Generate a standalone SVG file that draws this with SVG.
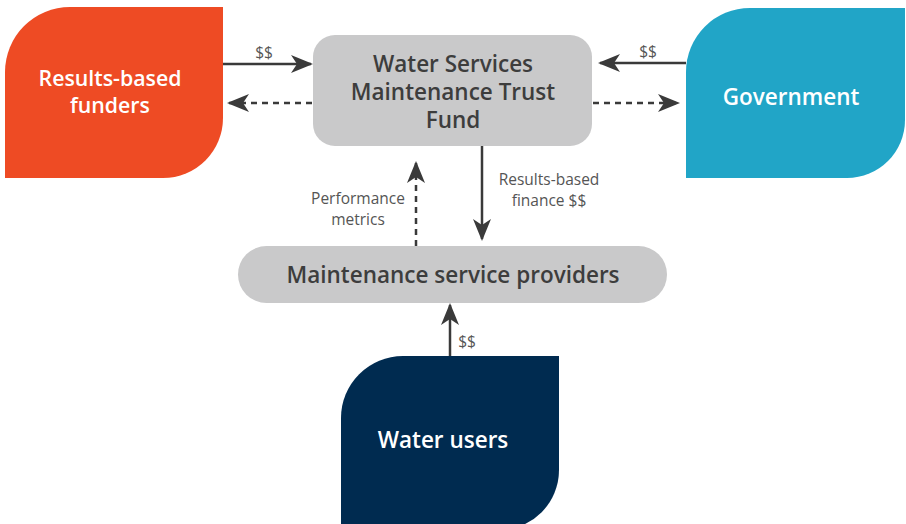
<svg xmlns="http://www.w3.org/2000/svg" width="906" height="524" viewBox="0 0 906 524">
<style>
.node-text{font-family:"Open Sans","Liberation Sans",sans-serif;font-weight:600;font-size:22.5px;fill:#ffffff;text-anchor:middle}
.gray-text{font-family:"Open Sans","Liberation Sans",sans-serif;font-weight:600;font-size:22.5px;fill:#3d3d3d;text-anchor:middle}
.lbl{font-family:"Open Sans","Liberation Sans",sans-serif;font-size:15.5px;fill:#555555;text-anchor:middle}
.solid{stroke:#3a3a3a;stroke-width:2.5;fill:none}
.dash{stroke:#3a3a3a;stroke-width:2.5;fill:none;stroke-dasharray:6 5}
</style>
<defs>
<marker id="ah" markerUnits="userSpaceOnUse" markerWidth="22" markerHeight="18" viewBox="0 0 22 18" refX="20" refY="9" orient="auto">
<path d="M0,0 L22,9 L0,18 L6,9 Z" fill="#3a3a3a"/>
</marker>
</defs>
<rect width="906" height="524" fill="#ffffff"/>
<g id="funders">
<path d="M5,72 A65,65 0 0 1 70,7 L223,7 L223,118 A60,60 0 0 1 163,178 L5,178 Z" fill="#ee4b24"/>
<text class="node-text" x="110" y="86" style="font-size:21.3px">Results-based</text>
<text class="node-text" x="110" y="113" style="font-size:21.3px">funders</text>
</g>
<g id="government">
<path d="M686,72 A64,64 0 0 1 750,8 L905,8 L905,120 A58,58 0 0 1 847,178 L686,178 Z" fill="#21a5c7"/>
<text class="node-text" x="791" y="105">Government</text>
</g>
<g id="trust-fund">
<rect x="313" y="35" width="279" height="111" rx="22" fill="#c9c9ca"/>
<text class="gray-text" x="453" y="72">Water Services</text>
<text class="gray-text" x="453" y="100">Maintenance Trust</text>
<text class="gray-text" x="453" y="128">Fund</text>
</g>
<g id="providers">
<rect x="238" y="246" width="429" height="57" rx="28.5" fill="#c9c9ca"/>
<text class="gray-text" x="453" y="283">Maintenance service providers</text>
</g>
<g id="water-users">
<path d="M341,418 A62,62 0 0 1 403,356 L559,356 L559,470 A60,60 0 0 1 499,530 L341,530 Z" fill="#002b50"/>
<text class="node-text" x="443" y="448">Water users</text>
</g>
<g id="connectors">
<line class="solid" x1="223" y1="64" x2="311" y2="64" marker-end="url(#ah)"/>
<line class="dash" x1="312" y1="103" x2="229" y2="103" marker-end="url(#ah)"/>
<line class="solid" x1="686" y1="63" x2="600" y2="63" marker-end="url(#ah)"/>
<line class="dash" x1="593" y1="103" x2="678" y2="103" marker-end="url(#ah)"/>
<line class="solid" x1="482" y1="146" x2="482" y2="239" marker-end="url(#ah)"/>
<line class="dash" x1="416" y1="246" x2="416" y2="163" marker-end="url(#ah)"/>
<line class="solid" x1="450" y1="356" x2="450" y2="305" marker-end="url(#ah)"/>
<text class="lbl" x="264" y="58">$$</text>
<text class="lbl" x="648" y="57">$$</text>
<text class="lbl" x="549" y="185">Results-based</text>
<text class="lbl" x="549" y="206">finance $$</text>
<text class="lbl" x="358" y="204">Performance</text>
<text class="lbl" x="358" y="225">metrics</text>
<text class="lbl" x="467" y="347">$$</text>
</g>
</svg>
